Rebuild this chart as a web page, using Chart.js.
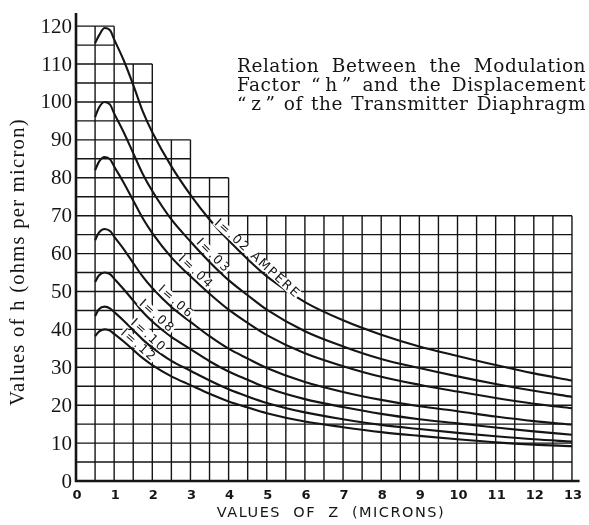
<!DOCTYPE html>
<html>
<head>
<meta charset="utf-8">
<title>Modulation factor h vs displacement z</title>
<script src="https://cdn.jsdelivr.net/npm/chart.js@4.4.0/dist/chart.umd.min.js"></script>
<style>
    html, body { margin: 0; padding: 0; background: #fff; }
    canvas { display: block; }
</style>
</head>
<body>
<canvas id="hChart" width="589" height="525"></canvas>
<script>
// displacement z (microns) where each curve was read
const zMicrons = [0.5, 0.6, 0.75, 0.9, 1, 1.25, 1.5, 1.75, 2, 2.5, 3, 3.5, 4, 4.5, 5, 6, 7, 8, 9, 10, 11, 12, 13];

// modulation factor h (ohms per micron) for each current
const hI02 = [115.5, 117.5, 119.5, 118.8, 116.5, 111, 104.5, 97.5, 92, 83, 75.5, 69, 63.5, 58.5, 54, 47.2, 42.4, 38.6, 35.5, 33, 30.6, 28.4, 26.5];
const hI03 = [96, 98.5, 100, 99.2, 97, 92, 86.5, 81, 76.5, 69, 63.2, 57.8, 53, 49, 45.2, 39.5, 35.5, 32.2, 29.8, 27.6, 25.6, 23.8, 22.2];
const hI04 = [82, 84.2, 85.5, 84.8, 83, 78.7, 74, 69.3, 65.4, 59, 54, 49.4, 45.2, 41.7, 38.5, 33.7, 30.3, 27.5, 25.4, 23.6, 21.9, 20.4, 19.2];
const hI06 = [63.5, 65.5, 66.5, 65.9, 64.5, 61.2, 57.5, 53.9, 50.9, 45.9, 42, 38.2, 34.9, 32.3, 29.8, 26.1, 23.5, 21.4, 19.7, 18.4, 17, 15.8, 14.9];
const hI08 = [52.5, 54.2, 55, 54.5, 53.4, 50.6, 47.6, 44.6, 42.1, 38, 34.8, 31.6, 28.9, 26.7, 24.6, 21.6, 19.5, 17.7, 16.3, 15.2, 14.1, 13.1, 12.2];
const hI10 = [43.5, 45.3, 46, 45.5, 44.6, 42.3, 39.8, 37.3, 35.2, 31.7, 29.1, 26.5, 24.2, 22.3, 20.6, 18.1, 16.3, 14.8, 13.7, 12.7, 11.8, 11, 10.4];
const hI12 = [38.2, 39.4, 40, 39.6, 38.8, 36.8, 34.6, 32.4, 30.6, 27.6, 25.3, 23, 21, 19.4, 17.9, 15.7, 14.2, 12.9, 11.9, 11, 10.2, 9.6, 9.2];

const curveLabels = ['I=.02 AMPERE', 'I=.03', 'I=.04', 'I=.06', 'I=.08', 'I=.10', 'I=.12'];
// z at which each label is lettered along its curve
const labelAtZ = [4.63, 3.47, 3.02, 2.5, 2.0, 1.78, 1.52];

const xTickValues = [0, 1, 2, 3, 4, 5, 6, 7, 8, 9, 10, 11, 12, 13];
const yTickValues = [0, 10, 20, 30, 40, 50, 60, 70, 80, 90, 100, 110, 120];

// the ruled paper steps down: top of the grid for each column of z
const gridSteps = [
    { upTo: 1, top: 120 },
    { upTo: 2, top: 110 },
    { upTo: 3, top: 90 },
    { upTo: 4, top: 80 },
    { upTo: 13, top: 70 },
];

const titleLines = [
    'Relation Between the Modulation',
    'Factor \u201C\u2009h\u2009\u201D and the Displacement',
    '\u201C\u2009z\u2009\u201D of the Transmitter Diaphragm',
];

const INK = '#151515';

function gridTopAt(z) {
    for (const s of gridSteps) {
        if (z <= s.upTo + 1e-6) return s.top;
    }
    return 0;
}

function gridReachAt(h) {
    let reach = 0;
    gridSteps.forEach(s => { if (s.top >= h) reach = s.upTo; });
    return reach;
}

const paperGrid = {
    id: 'paperGrid',
    beforeDatasetsDraw(chart) {
        const { ctx, scales: { x, y } } = chart;
        ctx.save();
        ctx.strokeStyle = INK;
        ctx.lineWidth = 1.4;
        ctx.beginPath();
        for (let z = 0.5; z <= 13.001; z += 0.5) {
            const px = x.getPixelForValue(z);
            ctx.moveTo(px, y.getPixelForValue(0));
            ctx.lineTo(px, y.getPixelForValue(gridTopAt(z)));
        }
        for (let h = 5; h <= 120.001; h += 5) {
            const py = y.getPixelForValue(h);
            ctx.moveTo(x.getPixelForValue(0), py);
            ctx.lineTo(x.getPixelForValue(gridReachAt(h)), py);
        }
        ctx.stroke();

        // heavy axis lines
        ctx.lineWidth = 2.6;
        ctx.beginPath();
        ctx.moveTo(x.getPixelForValue(0), y.getPixelForValue(123.5));
        ctx.lineTo(x.getPixelForValue(0), y.getPixelForValue(0));
        ctx.lineTo(x.getPixelForValue(13.2), y.getPixelForValue(0));
        ctx.stroke();
        ctx.restore();
    },
};

function valueAt(data, z) {
    for (let i = 1; i < data.length; i++) {
        const a = data[i - 1], b = data[i];
        if (z <= b.x) {
            const t = (z - a.x) / (b.x - a.x);
            return a.y + t * (b.y - a.y);
        }
    }
    return data[data.length - 1].y;
}

// labels are lettered just above their curve, parallel to it
const curveTags = {
    id: 'curveTags',
    afterDatasetsDraw(chart) {
        const { ctx, scales: { x, y } } = chart;
        ctx.save();
        ctx.font = '12.5px "DejaVu Sans"';
        ctx.letterSpacing = '1.8px';
        ctx.textAlign = 'center';
        ctx.textBaseline = 'middle';
        chart.data.datasets.forEach((ds, i) => {
            const z = labelAtZ[i];
            const px = x.getPixelForValue(z);
            const py = y.getPixelForValue(valueAt(ds.data, z));
            const x0 = x.getPixelForValue(z - 0.2), y0 = y.getPixelForValue(valueAt(ds.data, z - 0.2));
            const x1 = x.getPixelForValue(z + 0.2), y1 = y.getPixelForValue(valueAt(ds.data, z + 0.2));
            const angle = Math.atan2(y1 - y0, x1 - x0);
            const w = ctx.measureText(curveLabels[i]).width;
            ctx.save();
            ctx.translate(px, py);
            ctx.rotate(angle);
            ctx.translate(0, -7);
            ctx.fillStyle = '#fff';
            ctx.fillRect(-w / 2 - 1, -5, w + 1, 10);
            ctx.fillStyle = INK;
            ctx.fillText(curveLabels[i], 0, 0.5);
            ctx.restore();
        });
        ctx.restore();
    },
};

function drawJustified(ctx, text, left, right, baseline) {
    const words = text.split(' ');
    const widths = words.map(w => ctx.measureText(w).width);
    const used = widths.reduce((s, w) => s + w, 0);
    const gap = (right - left - used) / (words.length - 1);
    let cx = left;
    words.forEach((w, i) => {
        ctx.fillText(w, cx, baseline);
        cx += widths[i] + gap;
    });
}

const axisText = {
    id: 'axisText',
    afterDraw(chart) {
        const { ctx, scales: { x, y } } = chart;
        ctx.save();
        ctx.fillStyle = INK;

        ctx.font = '21px "Liberation Serif"';
        ctx.textAlign = 'right';
        ctx.textBaseline = 'middle';
        yTickValues.forEach(v => ctx.fillText(String(v), 72, y.getPixelForValue(v) + 1));

        ctx.font = 'bold 13px "DejaVu Sans"';
        ctx.textAlign = 'center';
        xTickValues.forEach(v => ctx.fillText(String(v), x.getPixelForValue(v) + 1, 496));

        ctx.font = '14.5px "DejaVu Sans"';
        ctx.letterSpacing = '1.5px';
        ctx.fillText('VALUES  OF  Z  (MICRONS)', 331, 513);

        ctx.save();
        ctx.translate(19, 262);
        ctx.rotate(-Math.PI / 2);
        ctx.font = '20.5px "Liberation Serif"';
        ctx.letterSpacing = '1.3px';
        ctx.fillText('Values of h (ohms per micron)', 0, 0);
        ctx.restore();

        ctx.font = '18.5px "DejaVu Serif"';
        ctx.letterSpacing = '0.5px';
        ctx.textAlign = 'left';
        ctx.textBaseline = 'alphabetic';
        const baselines = [72, 91, 109.5];
        titleLines.forEach((line, i) => drawJustified(ctx, line, 237, 586, baselines[i]));
        ctx.restore();
    },
};

const series = [hI02, hI03, hI04, hI06, hI08, hI10, hI12];

new Chart(document.getElementById('hChart'), {
    type: 'line',
    data: {
        datasets: series.map((vals, i) => ({
            label: curveLabels[i],
            data: zMicrons.map((z, k) => ({ x: z, y: vals[k] })),
            borderColor: INK,
            borderWidth: 2.1,
            pointRadius: 0,
            cubicInterpolationMode: 'monotone',
            fill: false,
        })),
    },
    options: {
        responsive: false,
        animation: false,
        devicePixelRatio: 1,
        layout: {
            padding: { left: 76, right: 7.5, top: 11, bottom: 44 },
        },
        plugins: {
            legend: { display: false },
            tooltip: { enabled: false },
        },
        scales: {
            x: { type: 'linear', min: 0, max: 13.25, display: false },
            y: { type: 'linear', min: 0, max: 124, display: false },
        },
    },
    plugins: [paperGrid, curveTags, axisText],
});
</script>
</body>
</html>
